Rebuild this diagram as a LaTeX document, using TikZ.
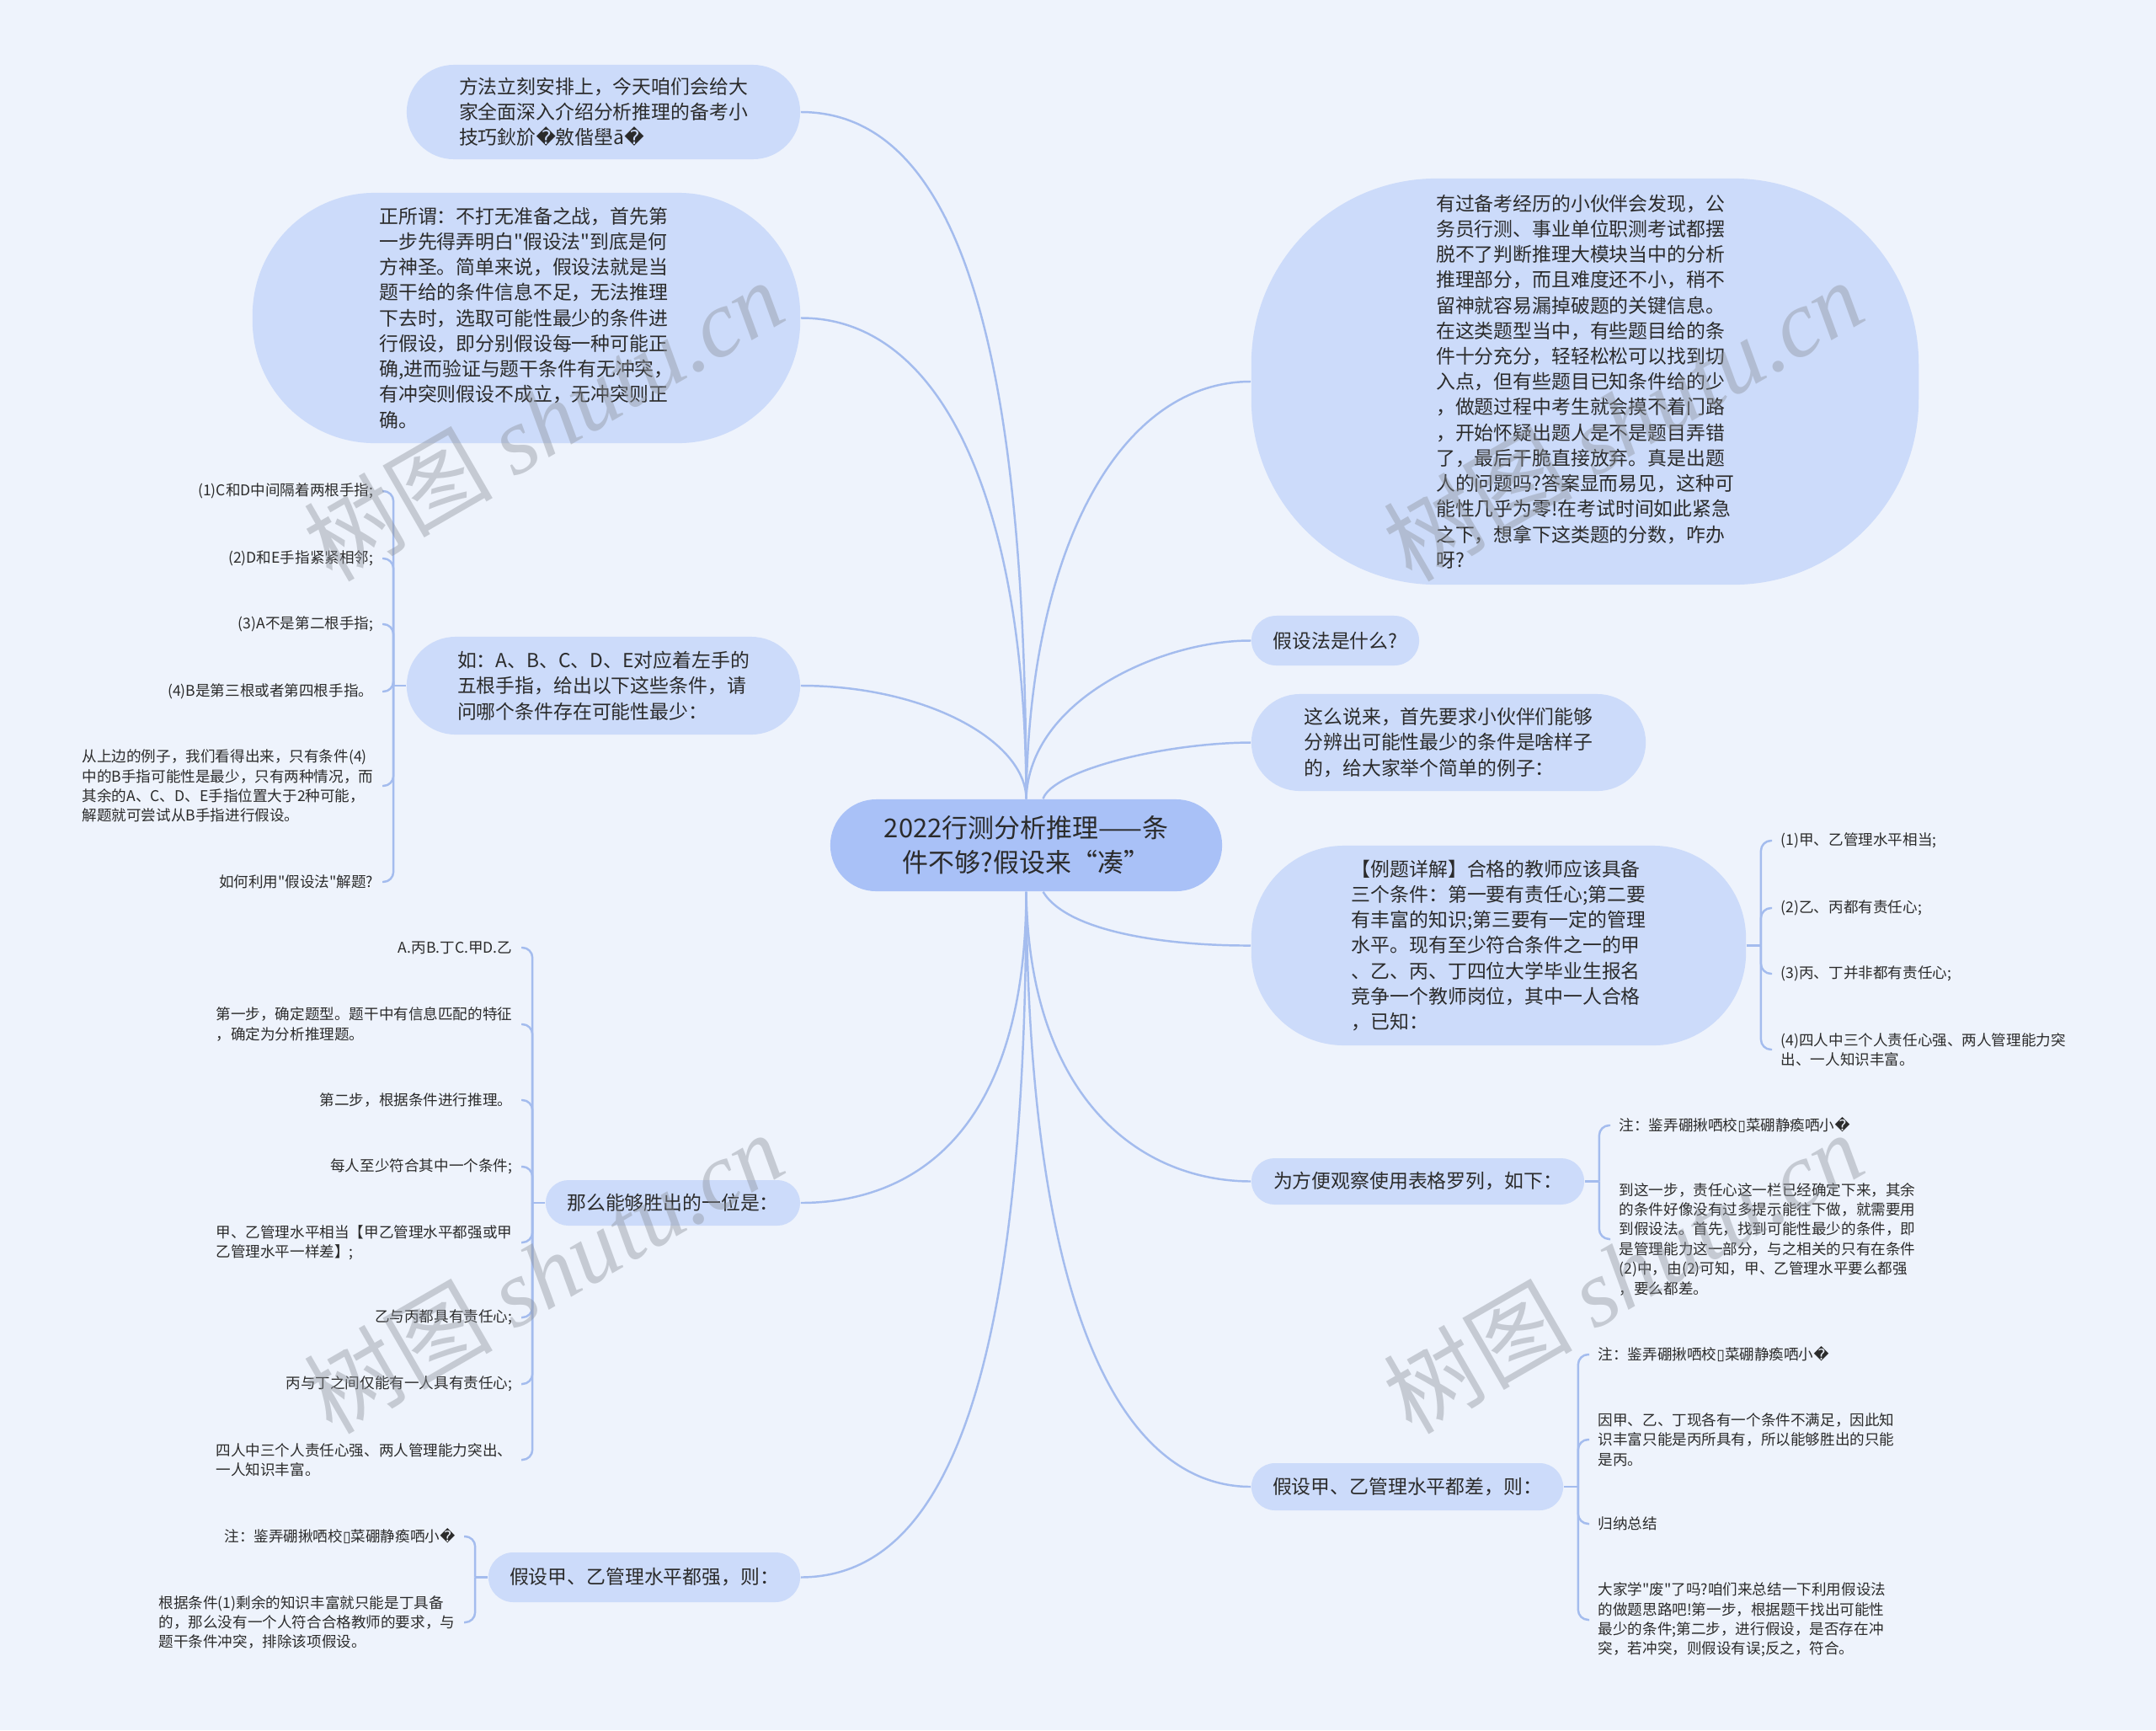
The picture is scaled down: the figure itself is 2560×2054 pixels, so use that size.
\documentclass[tikz,border=0pt]{standalone}
\usepackage{fontspec}
\setmainfont{Noto Sans CJK SC}
\newfontfamily\plainfont{Noto Sans CJK SC}
\newfontfamily\symfont{DejaVu Sans}
\newfontfamily\wmfont{Liberation Serif}
\definecolor{bgcol}{HTML}{EEF3FC}
\definecolor{bubcol}{HTML}{CCDBFA}
\definecolor{rootcol}{HTML}{A9C1F7}
\definecolor{linkcol}{HTML}{A4BCEE}
\definecolor{ink}{HTML}{2B2B2B}
\definecolor{wmcol}{HTML}{8E939B}
\newcommand{\repch}{{\symfont �}}
\newcommand{\nbox}{{\symfont ▯}}
\newcommand{\dq}{{\plainfont\char34}}
\newcommand{\garb}{注：鉴弄硼揪哂校\nbox 菜硼静瘓哂小\repch}
\begin{document}
\begin{tikzpicture}[x=0.01cm,y=-0.01cm,
  every node/.style={text=ink},
  root/.style={fill=rootcol,minimum width=4.65cm,minimum height=1.09cm,rounded corners=0.545cm,
    align=center,inner sep=0pt,font=\fontsize{8.8pt}{11.6pt}\selectfont},
  topic/.style={fill=bubcol,align=left,inner sep=0pt,font=\fontsize{6.5pt}{8.6pt}\selectfont},
  leaf/.style={align=left,inner xsep=0.1cm,inner ysep=0.03cm,font=\fontsize{5pt}{6.65pt}\selectfont},
  link/.style={draw=linkcol,line width=0.7pt},
  bracket/.style={link,rounded corners=0.12cm},
  wmark/.style={rotate=30,text=wmcol,text opacity=0.42,font=\fontsize{32pt}{32pt}\selectfont}]
\fill[bgcol] (0,0) rectangle (2560,2054);

\node[root] (root) at (1218.5,1003.5) {2022行测分析推理——条\\件不够?假设来“凑”};

\node[topic,minimum width=4.67cm,minimum height=1.12cm,rounded corners=0.56cm] (tips) at (716.5,133)
  {方法立刻安排上，今天咱们会给大\\家全面深入介绍分析推理的备考小\\技巧鈥斺\repch 敫偕壆ā\repch};
\node[topic,minimum width=6.5cm,minimum height=2.97cm,rounded corners=1.45cm] (define) at (625,377.5)
  {正所谓：不打无准备之战，首先第\\一步先得弄明白\dq 假设法\dq 到底是何\\方神圣。简单来说，假设法就是当\\题干给的条件信息不足，无法推理\\下去时，选取可能性最少的条件进\\行假设，即分别假设每一种可能正\\确,进而验证与题干条件有无冲突，\\有冲突则假设不成立，无冲突则正\\确。};
\node[topic,minimum width=4.67cm,minimum height=1.16cm,rounded corners=0.58cm] (hand) at (716.5,814)
  {如：A、B、C、D、E对应着左手的\\五根手指，给出以下这些条件，请\\问哪个条件存在可能性最少：};
\node[topic,minimum width=3.02cm,minimum height=0.54cm,rounded corners=0.27cm] (winner) at (799,1428)
  {那么能够胜出的一位是：};
\node[topic,minimum width=3.7cm,minimum height=0.59cm,rounded corners=0.295cm] (strong) at (765,1872.5)
  {假设甲、乙管理水平都强，则：};

\node[topic,minimum width=7.92cm,minimum height=4.82cm,rounded corners=2.2cm] (intro) at (1882,453)
  {有过备考经历的小伙伴会发现，公\\务员行测、事业单位职测考试都摆\\脱不了判断推理大模块当中的分析\\推理部分，而且难度还不小，稍不\\留神就容易漏掉破题的关键信息。\\在这类题型当中，有些题目给的条\\件十分充分，轻轻松松可以找到切\\入点，但有些题目已知条件给的少\\，做题过程中考生就会摸不着门路\\，开始怀疑出题人是不是题目弄错\\了，最后干脆直接放弃。真是出题\\人的问题吗?答案显而易见，这种可\\能性几乎为零!在考试时间如此紧急\\之下，想拿下这类题的分数，咋办\\呀?};
\node[topic,minimum width=1.99cm,minimum height=0.59cm,rounded corners=0.295cm] (what) at (1585.5,760.5)
  {假设法是什么?};
\node[topic,minimum width=4.68cm,minimum height=1.15cm,rounded corners=0.575cm] (spot) at (1720,881.5)
  {这么说来，首先要求小伙伴们能够\\分辨出可能性最少的条件是啥样子\\的，给大家举个简单的例子：};
\node[topic,minimum width=5.87cm,minimum height=2.37cm,rounded corners=1.1cm] (teacher) at (1779.5,1122.5)
  {【例题详解】合格的教师应该具备\\三个条件：第一要有责任心;第二要\\有丰富的知识;第三要有一定的管理\\水平。现有至少符合条件之一的甲\\、乙、丙、丁四位大学毕业生报名\\竞争一个教师岗位，其中一人合格\\，已知：};
\node[topic,minimum width=3.95cm,minimum height=0.55cm,rounded corners=0.275cm] (table) at (1683.5,1402.5)
  {为方便观察使用表格罗列，如下：};
\node[topic,minimum width=3.7cm,minimum height=0.56cm,rounded corners=0.28cm] (weak) at (1671,1765)
  {假设甲、乙管理水平都差，则：};

\draw[link] (root.north) .. controls (1218,450) and (1150,133) .. (tips.east);
\draw[link] (root.north) .. controls (1218,600) and (1120,377) .. (define.east);
\draw[link] (root.north) .. controls (1218,880) and (1100,814) .. (hand.east);
\draw[link] (root.north) .. controls (1222,650) and (1330,453) .. (intro.west);
\draw[link] (root.north) .. controls (1222,830) and (1380,760) .. (what.west);
\draw[link] ([xshift=0.2cm]root.north) .. controls (1250,915) and (1380,882) .. (spot.west);
\draw[link] (root.south) .. controls (1218,1350) and (1080,1428) .. (winner.east);
\draw[link] (root.south) .. controls (1218,1700) and (1100,1872) .. (strong.east);
\draw[link] ([xshift=0.2cm]root.south) .. controls (1270,1110) and (1400,1123) .. (teacher.west);
\draw[link] (root.south) .. controls (1222,1300) and (1350,1402) .. (table.west);
\draw[link] (root.south) .. controls (1222,1600) and (1350,1765) .. (weak.west);

\coordinate (hj) at ([xshift=-0.15cm]hand.west);
\coordinate (wj) at ([xshift=-0.15cm]winner.west);
\coordinate (sj) at ([xshift=-0.15cm]strong.west);
\coordinate (tj) at ([xshift=0.17cm]teacher.east);
\coordinate (bj) at ([xshift=0.17cm]table.east);
\coordinate (kj) at ([xshift=0.17cm]weak.east);

\node[leaf,anchor=east] (hand1) at (454,583) {(1)C和D中间隔着两根手指;};
\node[leaf,anchor=east] (hand2) at (454,663) {(2)D和E手指紧紧相邻;};
\node[leaf,anchor=east] (hand3) at (454,741) {(3)A不是第二根手指;};
\node[leaf,anchor=east] (hand4) at (454,821) {(4)B是第三根或者第四根手指。};
\node[leaf,anchor=east] (hand5) at (454,933) {从上边的例子，我们看得出来，只有条件(4)\\中的B手指可能性是最少，只有两种情况，而\\其余的A、C、D、E手指位置大于2种可能，\\解题就可尝试从B手指进行假设。};
\node[leaf,anchor=east] (hand6) at (454,1047) {如何利用\dq 假设法\dq 解题?};

\node[leaf,anchor=east] (win1) at (619,1125) {A.丙B.丁C.甲D.乙};
\node[leaf,anchor=east] (win2) at (619,1216) {第一步，确定题型。题干中有信息匹配的特征\\，确定为分析推理题。};
\node[leaf,anchor=east] (win3) at (619,1306) {第二步，根据条件进行推理。};
\node[leaf,anchor=east] (win4) at (619,1385) {每人至少符合其中一个条件;};
\node[leaf,anchor=east] (win5) at (619,1475) {甲、乙管理水平相当【甲乙管理水平都强或甲\\乙管理水平一样差】;};
\node[leaf,anchor=east] (win6) at (619,1564) {乙与丙都具有责任心;};
\node[leaf,anchor=east] (win7) at (619,1643) {丙与丁之间仅能有一人具有责任心;};
\node[leaf,anchor=east] (win8) at (619,1733) {四人中三个人责任心强、两人管理能力突出、\\一人知识丰富。};

\node[leaf,anchor=east] (strong1) at (551,1824) {\garb};
\node[leaf,anchor=east] (strong2) at (551,1926) {根据条件(1)剩余的知识丰富就只能是丁具备\\的，那么没有一个人符合合格教师的要求，与\\题干条件冲突，排除该项假设。};

\node[leaf,anchor=west] (teach1) at (2104,998) {(1)甲、乙管理水平相当;};
\node[leaf,anchor=west] (teach2) at (2104,1078) {(2)乙、丙都有责任心;};
\node[leaf,anchor=west] (teach3) at (2104,1156) {(3)丙、丁并非都有责任心;};
\node[leaf,anchor=west] (teach4) at (2104,1246) {(4)四人中三个人责任心强、两人管理能力突\\出、一人知识丰富。};

\node[leaf,anchor=west] (table1) at (1912,1336) {\garb};
\node[leaf,anchor=west] (table2) at (1912,1471) {到这一步，责任心这一栏已经确定下来，其余\\的条件好像没有过多提示能往下做，就需要用\\到假设法。首先，找到可能性最少的条件，即\\是管理能力这一部分，与之相关的只有在条件\\(2)中，由(2)可知，甲、乙管理水平要么都强\\，要么都差。};

\node[leaf,anchor=west] (weak1) at (1887,1608) {\garb};
\node[leaf,anchor=west] (weak2) at (1887,1709) {因甲、乙、丁现各有一个条件不满足，因此知\\识丰富只能是丙所具有，所以能够胜出的只能\\是丙。};
\node[leaf,anchor=west] (weak3) at (1887,1809) {归纳总结};
\node[leaf,anchor=west] (weak4) at (1887,1923) {大家学\dq 废\dq 了吗?咱们来总结一下利用假设法\\的做题思路吧!第一步，根据题干找出可能性\\最少的条件;第二步，进行假设，是否存在冲\\突，若冲突，则假设有误;反之，符合。};

\draw[link] (hand.west) -- (hj);
\draw[link] (winner.west) -- (wj);
\draw[link] (strong.west) -- (sj);
\draw[link] (teacher.east) -- (tj);
\draw[link] (table.east) -- (bj);
\draw[link] (weak.east) -- (kj);
\foreach \c in {hand1,hand2,hand3,hand4,hand5,hand6}
  \draw[bracket] (hj) |- (\c.east);
\foreach \c in {win1,win2,win3,win4,win5,win6,win7,win8}
  \draw[bracket] (wj) |- (\c.east);
\foreach \c in {strong1,strong2}
  \draw[bracket] (sj) |- (\c.east);
\foreach \c in {teach1,teach2,teach3,teach4}
  \draw[bracket] (tj) |- (\c.west);
\foreach \c in {table1,table2}
  \draw[bracket] (bj) |- (\c.west);
\foreach \c in {weak1,weak2,weak3,weak4}
  \draw[bracket] (kj) |- (\c.west);

\node[wmark] (wm1) at (645,498) {树图 {\wmfont\itshape shutu.cn}};
\node[wmark] (wm2) at (1927,498) {树图 {\wmfont\itshape shutu.cn}};
\node[wmark] (wm3) at (645,1510) {树图 {\wmfont\itshape shutu.cn}};
\node[wmark] (wm4) at (1927,1510) {树图 {\wmfont\itshape shutu.cn}};
\end{tikzpicture}
\end{document}
